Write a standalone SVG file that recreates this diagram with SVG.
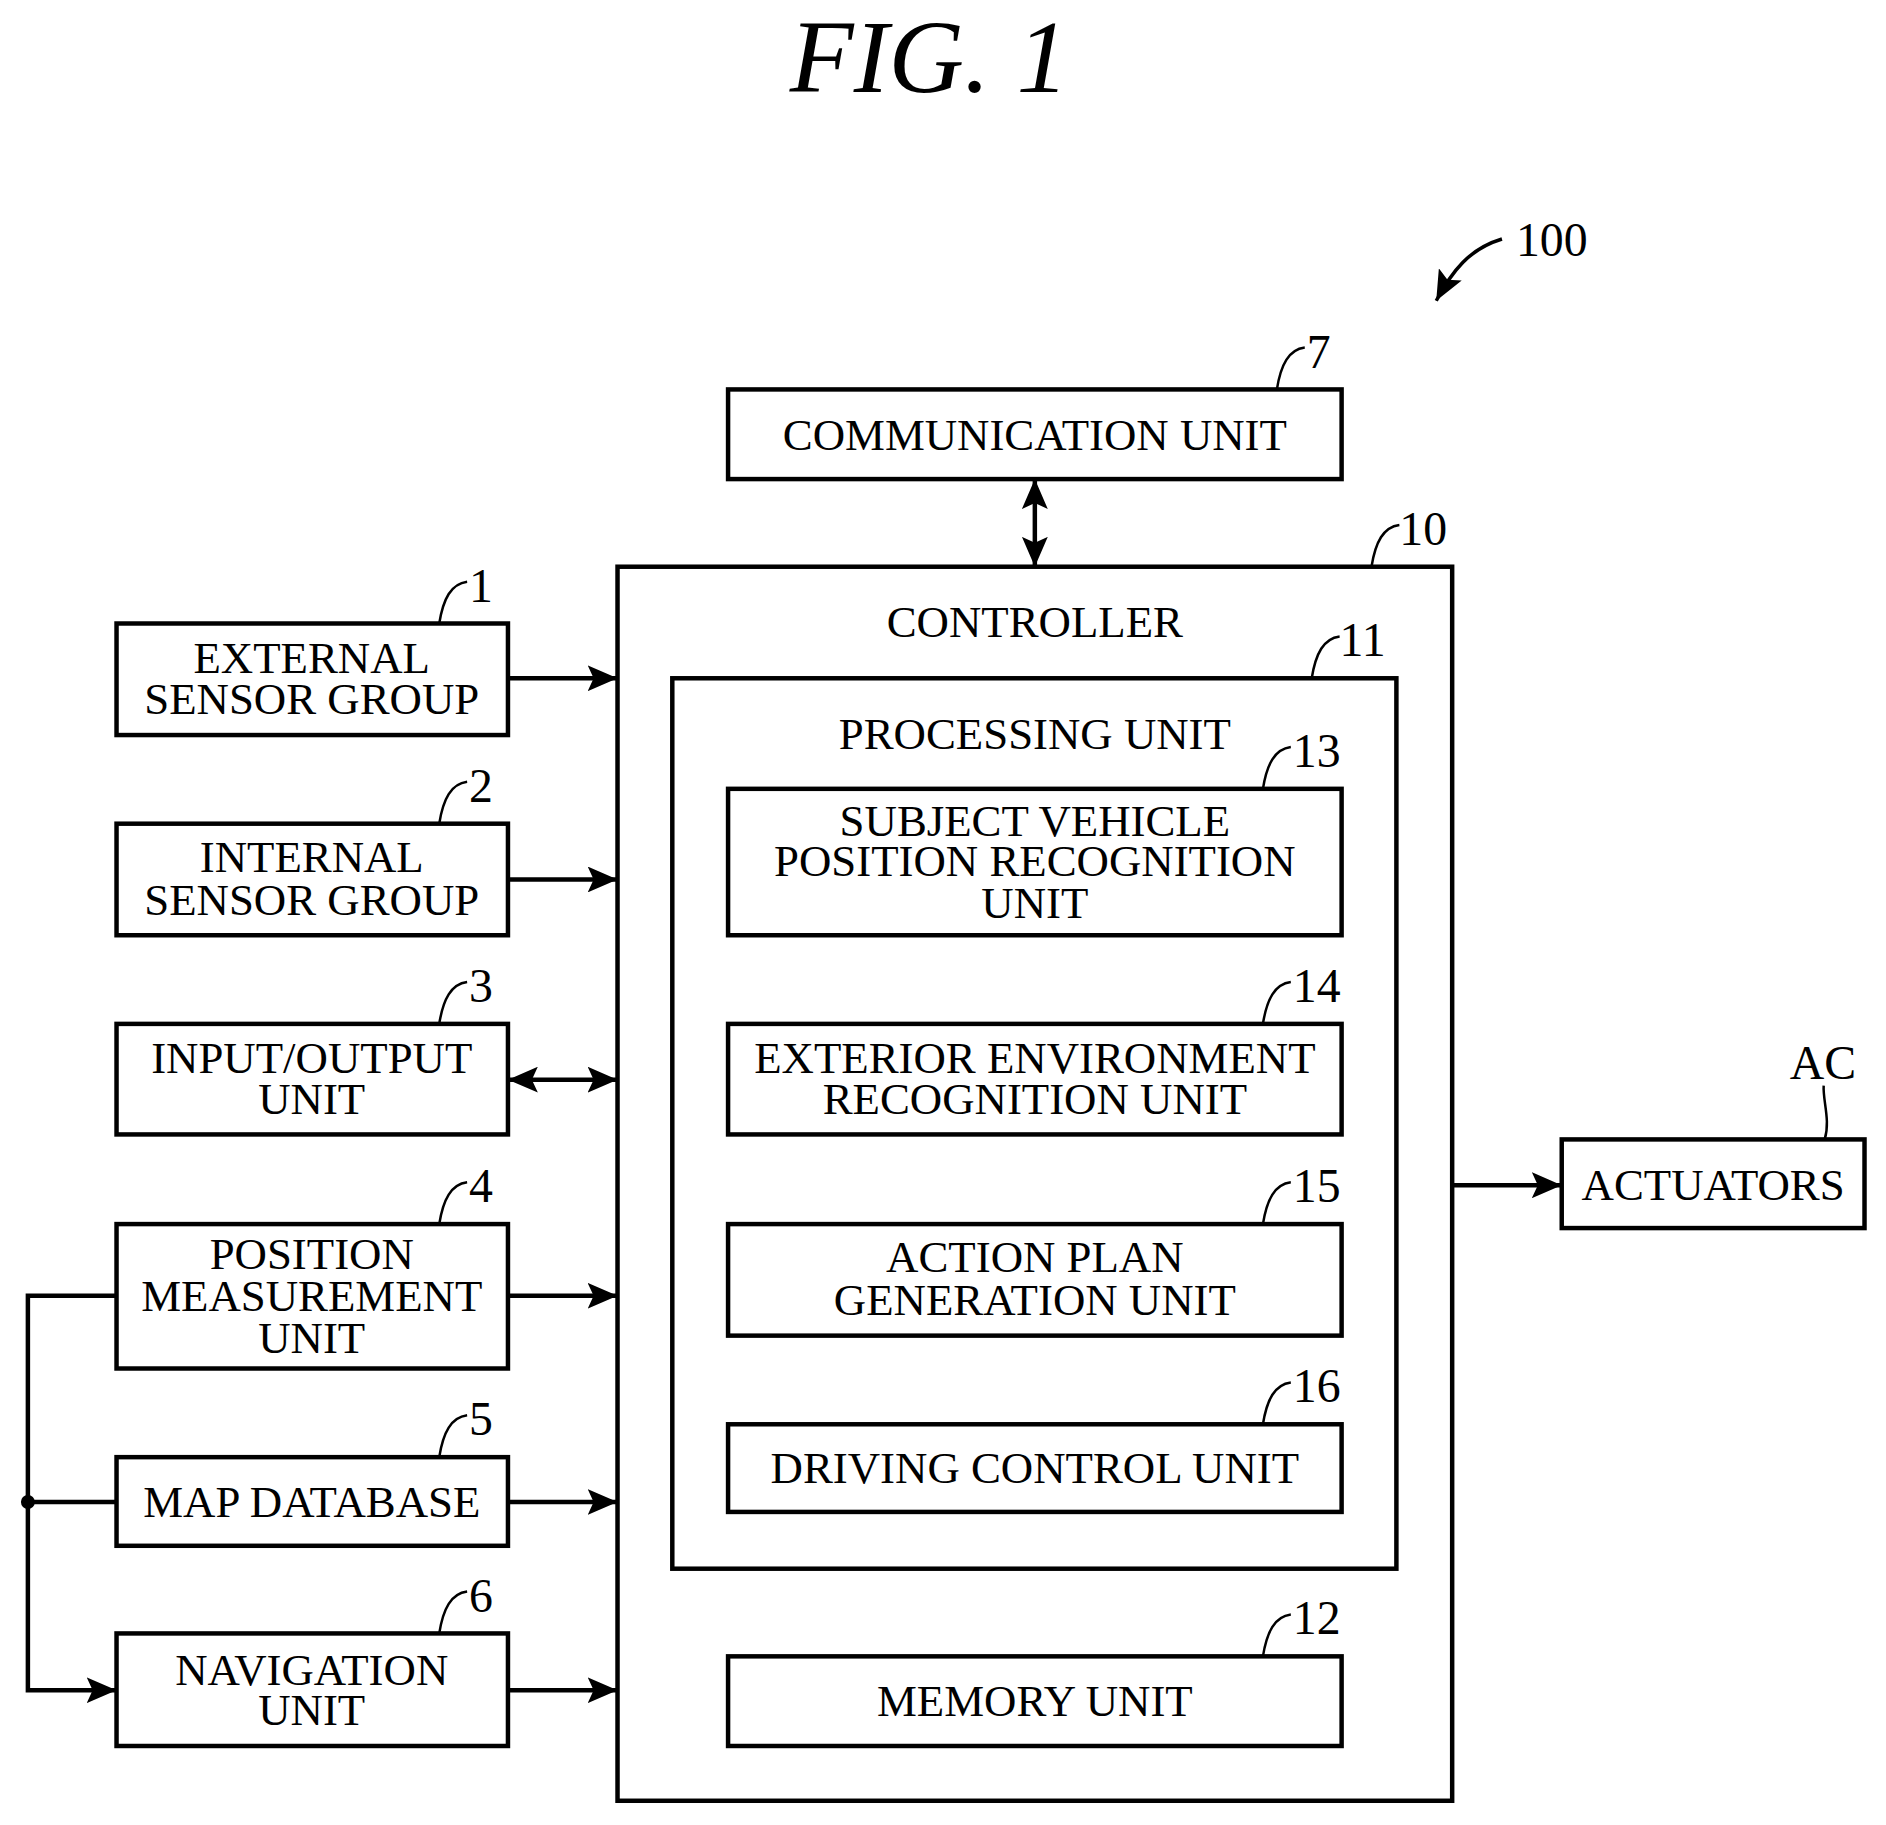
<svg xmlns="http://www.w3.org/2000/svg" width="1886" height="1825" viewBox="0 0 1886 1825">
<style>
.box{fill:#fff;stroke:#000;stroke-width:4.5}
.t{font-family:"Liberation Serif",serif;font-size:45px;text-anchor:middle;fill:#000}
.n{font-family:"Liberation Serif",serif;font-size:48px;fill:#000}
.ld{fill:none;stroke:#000;stroke-width:2.5}
.c{fill:none;stroke:#000;stroke-width:4.5}
</style>
<defs>
<marker id="ah" viewBox="0 0 30 26" refX="30" refY="13" markerWidth="30" markerHeight="26" markerUnits="userSpaceOnUse" orient="auto-start-reverse">
<path d="M0,0 L30,13 L0,26 L6,13 z" fill="#000"/>
</marker>
</defs>
<rect width="1886" height="1825" fill="#fff"/>
<g transform="scale(0.996)">
<text x="933" y="92" font-family="Liberation Serif,serif" font-style="italic" font-size="105" text-anchor="middle">FIG. 1</text>
<g id="ref100">
<text class="n" x="1522" y="257">100</text>
<path d="M1508,240 C1475,250 1458,272 1442,302" fill="none" stroke="#000" stroke-width="3.5" marker-end="url(#ah)"/>
</g>
<g id="n7"><rect class="box" x="731" y="391" width="616" height="90"/><text class="t" x="1039" y="452">COMMUNICATION UNIT</text>
<path class="ld" d="M1282,391 C1286,366 1294,351 1310,349"/><text class="n" x="1312" y="369">7</text></g>
<g id="n10"><rect class="box" x="620" y="569" width="838" height="1239"/><text class="t" x="1039" y="640">CONTROLLER</text>
<path class="ld" d="M1377,569 C1381,544 1389,529 1405,527"/><text class="n" x="1405" y="547">10</text></g>
<g id="n11"><rect class="box" x="675" y="681" width="727" height="894"/><text class="t" x="1039" y="752">PROCESSING UNIT</text>
<path class="ld" d="M1317,681 C1321,656 1329,641 1345,639"/><text class="n" x="1345" y="659">11</text></g>
<g id="n13"><rect class="box" x="731" y="792" width="616" height="147"/><text class="t" x="1039" y="839">SUBJECT VEHICLE</text><text class="t" x="1039" y="880">POSITION RECOGNITION</text><text class="t" x="1039" y="922">UNIT</text>
<path class="ld" d="M1268,792 C1272,767 1280,752 1296,750"/><text class="n" x="1298" y="770">13</text></g>
<g id="n14"><rect class="box" x="731" y="1028" width="616" height="111"/><text class="t" x="1039" y="1077">EXTERIOR ENVIRONMENT</text><text class="t" x="1039" y="1118">RECOGNITION UNIT</text>
<path class="ld" d="M1268,1028 C1272,1003 1280,988 1296,986"/><text class="n" x="1298" y="1006">14</text></g>
<g id="n15"><rect class="box" x="731" y="1229" width="616" height="112"/><text class="t" x="1039" y="1277">ACTION PLAN</text><text class="t" x="1039" y="1320">GENERATION UNIT</text>
<path class="ld" d="M1268,1229 C1272,1204 1280,1189 1296,1187"/><text class="n" x="1298" y="1207">15</text></g>
<g id="n16"><rect class="box" x="731" y="1430" width="616" height="88"/><text class="t" x="1039" y="1489">DRIVING CONTROL UNIT</text>
<path class="ld" d="M1268,1430 C1272,1405 1280,1390 1296,1388"/><text class="n" x="1298" y="1408">16</text></g>
<g id="n12"><rect class="box" x="731" y="1663" width="616" height="90"/><text class="t" x="1039" y="1723">MEMORY UNIT</text>
<path class="ld" d="M1268,1663 C1272,1638 1280,1623 1296,1621"/><text class="n" x="1298" y="1641">12</text></g>
<g id="n1"><rect class="box" x="117" y="626" width="393" height="112"/><text class="t" x="313" y="676">EXTERNAL</text><text class="t" x="313" y="717">SENSOR GROUP</text>
<path class="ld" d="M441,626 C445,601 453,586 469,584"/><text class="n" x="471" y="604">1</text></g>
<g id="n2"><rect class="box" x="117" y="827" width="393" height="112"/><text class="t" x="313" y="876">INTERNAL</text><text class="t" x="313" y="919">SENSOR GROUP</text>
<path class="ld" d="M441,827 C445,802 453,787 469,785"/><text class="n" x="471" y="805">2</text></g>
<g id="n3"><rect class="box" x="117" y="1028" width="393" height="111"/><text class="t" x="313" y="1077">INPUT/OUTPUT</text><text class="t" x="313" y="1118">UNIT</text>
<path class="ld" d="M441,1028 C445,1003 453,988 469,986"/><text class="n" x="471" y="1006">3</text></g>
<g id="n4"><rect class="box" x="117" y="1229" width="393" height="145"/><text class="t" x="313" y="1274">POSITION</text><text class="t" x="313" y="1316">MEASUREMENT</text><text class="t" x="313" y="1358">UNIT</text>
<path class="ld" d="M441,1229 C445,1204 453,1189 469,1187"/><text class="n" x="471" y="1207">4</text></g>
<g id="n5"><rect class="box" x="117" y="1463" width="393" height="89"/><text class="t" x="313" y="1523">MAP DATABASE</text>
<path class="ld" d="M441,1463 C445,1438 453,1423 469,1421"/><text class="n" x="471" y="1441">5</text></g>
<g id="n6"><rect class="box" x="117" y="1640" width="393" height="113"/><text class="t" x="313" y="1692">NAVIGATION</text><text class="t" x="313" y="1732">UNIT</text>
<path class="ld" d="M441,1640 C445,1615 453,1600 469,1598"/><text class="n" x="471" y="1618">6</text></g>
<g id="nAC"><rect class="box" x="1568" y="1144" width="304" height="89"/><text class="t" x="1720" y="1205">ACTUATORS</text>
<text class="n" x="1797" y="1083">AC</text><path class="ld" d="M1831,1090 C1830,1105 1838,1125 1832,1144"/></g>
<g id="connectors">
<path class="c" d="M1039,481 L1039,569" marker-start="url(#ah)" marker-end="url(#ah)"/>
<path class="c" d="M510,681 L620,681" marker-end="url(#ah)"/>
<path class="c" d="M510,883 L620,883" marker-end="url(#ah)"/>
<path class="c" d="M510,1084 L620,1084" marker-start="url(#ah)" marker-end="url(#ah)"/>
<path class="c" d="M510,1301 L620,1301" marker-end="url(#ah)"/>
<path class="c" d="M510,1508 L620,1508" marker-end="url(#ah)"/>
<path class="c" d="M510,1697 L620,1697" marker-end="url(#ah)"/>
<path class="c" d="M1458,1190 L1568,1190" marker-end="url(#ah)"/>
<path class="c" d="M117,1301 L28,1301 L28,1697 L117,1697" marker-end="url(#ah)"/>
<path class="c" d="M28,1508 L117,1508"/>
<circle cx="28" cy="1508" r="7" fill="#000"/>
</g>
</g>
</svg>
